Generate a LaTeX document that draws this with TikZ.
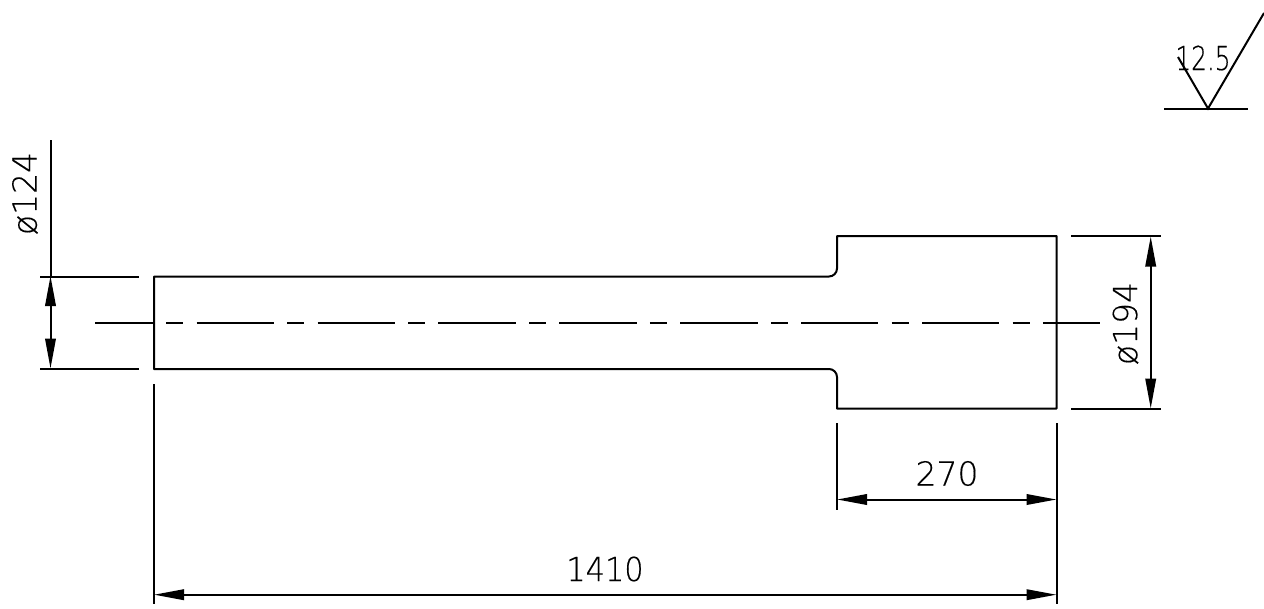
\documentclass[tikz,border=0pt]{standalone}
\usepackage{fontspec}
\usetikzlibrary{arrows.meta}
\setmainfont[FakeBold=0.3]{DejaVu Sans ExtraLight}
\tikzset{
  x=1pt,y=-1pt,
  part/.style={line width=2pt,line join=round},
  thin line/.style={line width=2pt},
  centre/.style={line width=2pt,dash pattern=on 77.3pt off 13.3pt on 17pt off 13.3pt,dash phase=19.3pt},
  dimline/.style={line width=2pt,{Triangle[length=30pt,width=10.5pt]}-{Triangle[length=30pt,width=10.5pt]},shorten <=-0.5pt,shorten >=-0.5pt},
  dimtext/.style={inner sep=0pt,font=\fontsize{33}{33}\selectfont}
}
\begin{document}
\begin{tikzpicture}
\useasboundingbox (0,0) rectangle (1264,608);
% part outline
\draw[part] (154,276.5) -- (829,276.5) arc[start angle=90,end angle=0,radius=8pt,x radius=8pt,y radius=-8pt] -- (837,236) -- (1056.5,236) -- (1056.5,408.7) -- (837,408.7) -- (837,377) arc[start angle=0,end angle=90,x radius=8pt,y radius=8pt] -- (154,369) -- cycle;
% centre line
\draw[centre] (95,323) -- (1100,323);
% left diameter
\draw[thin line] (40,276.5) -- (139,276.5);
\draw[thin line] (40,369) -- (139,369);
\draw[thin line] (50.5,140) -- (50.5,276.5);
\draw[dimline] (50.5,276.5) -- (50.5,368);
\node[dimtext,rotate=90] (d124) at (25,193.5) {ø124};
% right diameter
\draw[thin line] (1071,236) -- (1161,236);
\draw[thin line] (1071,408.7) -- (1161,408.7);
\draw[dimline] (1150.7,237) -- (1150.7,408);
\node[dimtext,rotate=90] (d194) at (1125.5,323.5) {ø194};
% 270
\draw[thin line] (837,423) -- (837,510);
\draw[thin line] (1056.5,423) -- (1056.5,604);
\draw[dimline] (837.5,499.5) -- (1056,499.5);
\node[dimtext] (l270) at (947,473.5) {270};
% 1410
\draw[thin line] (154,384) -- (154,604);
\draw[dimline] (154.5,594.7) -- (1056,594.7);
\node[dimtext,xscale=0.92] (l1410) at (605,569) {1410};
% roughness
\draw[thin line] (1164,108.5) -- (1248,108.5);
\draw[thin line,line join=miter] (1178,57) -- (1208,108.5) -- (1264,13);
\node[dimtext,xscale=0.75] (r) at (1203,58) {12.5};
\end{tikzpicture}
\end{document}
